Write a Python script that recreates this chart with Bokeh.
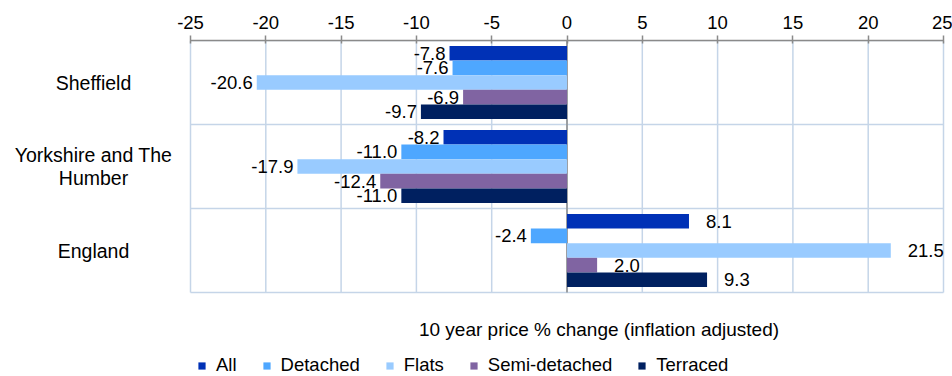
from bokeh.plotting import figure
from bokeh.models import (ColumnDataSource, FixedTicker, Legend, LegendItem,
                          Label, Range1d)
from bokeh.core.properties import value
from bokeh.embed import file_html
from bokeh.resources import INLINE

# ---- data ----
categories = ["Sheffield", "Yorkshire and The Humber", "England"]
category_labels = ["Sheffield", "Yorkshire and The\nHumber", "England"]
series = ["All", "Detached", "Flats", "Semi-detached", "Terraced"]
all_vals = [-7.8, -8.2, 8.1]
detached_vals = [-7.6, -11.0, -2.4]
flats_vals = [-20.6, -17.9, 21.5]
semi_vals = [-6.9, -12.4, 2.0]
terraced_vals = [-9.7, -11.0, 9.3]
x_ticks = [-25, -20, -15, -10, -5, 0, 5, 10, 15, 20, 25]
axis_title = "10 year price % change (inflation adjusted)"

series_values = [all_vals, detached_vals, flats_vals, semi_vals, terraced_vals]
colors = ["#0031b6", "#4ea7ff", "#99cbff", "#8064a2", "#002060"]

# ---- layout / style ----
FONT = "Liberation Sans"
GRID = "#c5d5e8"
AXIS = "#8a8a8a"
W, H = 952, 376
PLOT_L, PLOT_R, PLOT_T, PLOT_B = 190, 943, 40, 292

n_cat = len(categories)
n_ser = len(series)
bar_h = 0.174

xscale = (PLOT_R - PLOT_L) / (x_ticks[-1] - x_ticks[0])
yscale = (PLOT_B - PLOT_T) / n_cat
x_start = x_ticks[0] - PLOT_L / xscale
x_end = x_ticks[-1] + (W - PLOT_R) / xscale
y_start = -(H - PLOT_B) / yscale

p = figure(width=W, height=H, output_backend="svg", toolbar_location=None,
           x_axis_location="above", y_axis_location=None,
           x_range=Range1d(x_start, x_end), y_range=Range1d(y_start, n_cat),
           min_border_left=0, min_border_right=0, min_border_top=PLOT_T,
           min_border_bottom=0)
p.background_fill_color = "white"
p.border_fill_color = "white"
p.outline_line_color = None
p.xgrid.visible = False
p.ygrid.visible = False

# plot-area grid (vertical at ticks, horizontal at category boundaries)
p.segment(x0=x_ticks, y0=[0] * len(x_ticks), x1=x_ticks, y1=[n_cat] * len(x_ticks),
          line_color=GRID, line_width=1.5)
bounds = list(range(0, n_cat + 1))
p.segment(x0=[x_ticks[0]] * len(bounds), y0=bounds, x1=[x_ticks[-1]] * len(bounds),
          y1=bounds, line_color=GRID, line_width=1.5)
# zero line
p.segment(x0=[0], y0=[0], x1=[0], y1=[n_cat], line_color=AXIS, line_width=1.5)

renderers = []
for j, (name, vals, col) in enumerate(zip(series, series_values, colors)):
    ys = [n_cat - 1 - i + 0.5 + ((n_ser - 1) / 2 - j) * bar_h for i in range(n_cat)]
    src = ColumnDataSource(dict(
        y=ys, x=vals,
        label=[f"{v:.1f}" for v in vals],
        align=["left" if v >= 0 else "right" for v in vals],
        xoff=[17 if v >= 0 else -4 for v in vals],
    ))
    r = p.hbar(y="y", left=0, right="x", height=bar_h, source=src,
               fill_color=col, line_color=None)
    renderers.append(r)
    p.text(x="x", y="y", text="label", source=src, text_align="align",
           x_offset="xoff", text_baseline="middle", text_color="black",
           text_font=value(FONT), text_font_size=value("18.5px"))

# x axis (top)
xa = p.xaxis[0]
xa.ticker = FixedTicker(ticks=x_ticks)
xa.major_label_overrides = {t: str(t) for t in x_ticks}
xa.bounds = (x_ticks[0], x_ticks[-1])
xa.axis_line_color = AXIS
xa.axis_line_width = 1.5
xa.major_tick_line_color = AXIS
xa.major_tick_line_width = 1.5
xa.major_tick_in = 3
xa.major_tick_out = 5
xa.minor_tick_line_color = None
xa.major_label_standoff = 7
xa.major_label_text_font = FONT
xa.major_label_text_font_size = "18.5px"
xa.major_label_text_color = "black"

# category labels (left of the plot area)
for i, lab in enumerate(category_labels):
    p.add_layout(Label(x=x_ticks[0], y=n_cat - 1 - i + 0.5, x_offset=-97,
                       text=lab, text_align="center", text_baseline="middle",
                       text_line_height=1.05,
                       text_font=FONT, text_font_size="19.5px", text_color="black"))

# axis title below the plot area
p.add_layout(Label(x=0, y=0, x_offset=32, y_offset=-37, text=axis_title,
                   text_align="center", text_baseline="middle",
                   text_font=FONT, text_font_size="19px", text_color="black"))

legend = Legend(items=[LegendItem(label=s, renderers=[r]) for s, r in zip(series, renderers)],
                orientation="horizontal", location=(197, 0), spacing=25,
                label_standoff=10, glyph_width=9, glyph_height=9, padding=0,
                margin=0, border_line_color=None, background_fill_alpha=0,
                label_text_font=FONT, label_text_font_size="18.5px",
                label_text_color="black")
p.add_layout(legend, "center")

open("out.html", "w").write(file_html(p, INLINE))
